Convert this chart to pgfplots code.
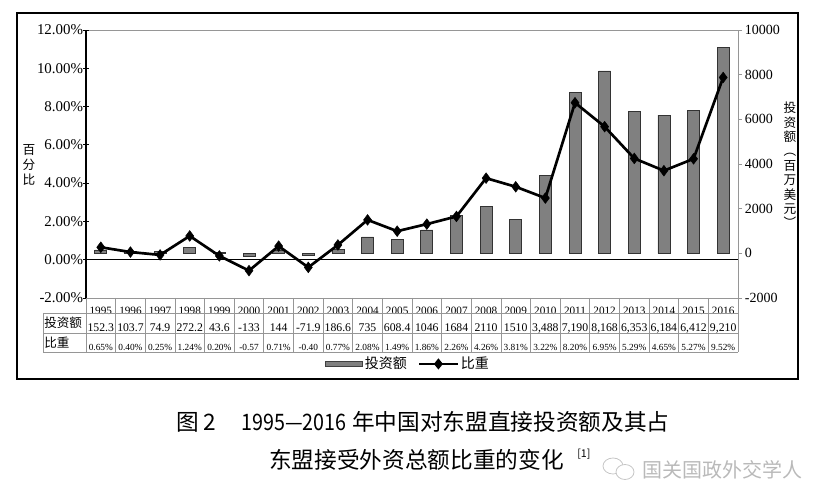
\documentclass[border=0pt]{standalone}
\usepackage{fontspec}
\setmainfont{Liberation Serif}
\newfontfamily\cjk{Noto Sans CJK SC}
\usepackage{pgfplots}
\usepackage{pgfplotstable}
\pgfplotsset{compat=1.18}
\definecolor{bargray}{RGB}{128,128,128}
\definecolor{gridgray}{RGB}{150,150,150}

\pgfplotstableread{
x amount pct
1 152.3 0.65
2 103.7 0.40
3 74.9 0.25
4 272.2 1.24
5 43.6 0.20
6 -133 -0.57
7 144 0.71
8 -71.9 -0.40
9 186.6 0.77
10 735 2.08
11 608.4 1.49
12 1046 1.86
13 1684 2.26
14 2110 4.26
15 1510 3.81
16 3488 3.22
17 7190 8.20
18 8168 6.95
19 6353 5.29
20 6184 4.65
21 6412 5.27
22 9210 9.52
}\data

\newcommand\tbl[3]{%
 \makebox[0pt][c]{\raisebox{-8.6pt}[0pt][0pt]{\fontsize{8.4}{9}\selectfont #1}}%
 \makebox[0pt][c]{\raisebox{-21.2pt}[0pt][0pt]{\fontsize{8.8}{9}\selectfont #2}}%
 \makebox[0pt][c]{\raisebox{-35.6pt}[0pt][0pt]{\fontsize{7}{8}\selectfont #3}}}

\begin{document}
\begin{tikzpicture}[x=0.75pt,y=0.75pt]
\useasboundingbox (0,0) rectangle (828,502);
% outer frame
\draw[line width=0.9pt] (17,123) rectangle (798,489);

% bars on the right axis
\begin{axis}[
  at={(64.5pt,153pt)}, anchor=south west, scale only axis,
  width=489pt, height=201pt,
  xmin=0.5, xmax=22.5, ymin=-2000, ymax=10000,
  scaled y ticks=false,
  axis line style={gridgray, line width=0.6pt},
  xtick={1,...,22},
  xticklabels={
   {\tbl{1995}{152.3}{0.65\%}},{\tbl{1996}{103.7}{0.40\%}},{\tbl{1997}{74.9}{0.25\%}},
   {\tbl{1998}{272.2}{1.24\%}},{\tbl{1999}{43.6}{0.20\%}},{\tbl{2000}{-133}{-0.57}},
   {\tbl{2001}{144}{0.71\%}},{\tbl{2002}{-71.9}{-0.40}},{\tbl{2003}{186.6}{0.77\%}},
   {\tbl{2004}{735}{2.08\%}},{\tbl{2005}{608.4}{1.49\%}},{\tbl{2006}{1046}{1.86\%}},
   {\tbl{2007}{1684}{2.26\%}},{\tbl{2008}{2110}{4.26\%}},{\tbl{2009}{1510}{3.81\%}},
   {\tbl{2010}{3,488}{3.22\%}},{\tbl{2011}{7,190}{8.20\%}},{\tbl{2012}{8,168}{6.95\%}},
   {\tbl{2013}{6,353}{5.29\%}},{\tbl{2014}{6,184}{4.65\%}},{\tbl{2015}{6,412}{5.27\%}},
   {\tbl{2016}{9,210}{9.52\%}}},
  xtick style={draw=none},
  xticklabel style={anchor=north, inner sep=0pt},
  ytick={-2000,0,2000,4000,6000,8000,10000},
  yticklabels={-2000,0,2000,4000,6000,8000,10000},
  ytick pos=right, yticklabel pos=right,
  tick align=outside, major tick length=3pt,
  ytick style={gridgray, line width=0.6pt},
  yticklabel style={anchor=west, inner sep=0pt, xshift=2pt, font=\fontsize{10.5}{12}\selectfont},
  ybar, bar width=9pt,
]
\addplot[fill=bargray, draw=black!80, line width=0.5pt] table[x=x, y=amount] {\data};
\end{axis}

% line on the left axis
\begin{axis}[
  at={(64.5pt,153pt)}, anchor=south west, scale only axis,
  width=489pt, height=201pt,
  xmin=0.5, xmax=22.5, ymin=-2, ymax=12,
  axis x line=none, axis y line*=left,
  axis line style={-, black, line width=0.8pt},
  ytick={-2,0,2,4,6,8,10,12},
  yticklabels={-2.00\%,0.00\%,2.00\%,4.00\%,6.00\%,8.00\%,10.00\%,12.00\%},
  tick align=center, major tick length=4pt,
  ytick style={black, line width=0.6pt},
  yticklabel style={anchor=east, inner sep=0pt, font=\fontsize{11.2}{13}\selectfont},
  clip=false,
  legend style={at={(axis description cs:0.3666,-0.246)}, anchor=west,
    draw=none, fill=none, inner sep=0pt, outer sep=0pt,
    nodes={inner sep=1.5pt},
    font=\cjk\fontsize{10.5}{12}\selectfont},
  legend columns=2,
  legend cell align=left,
  /tikz/every even column/.append style={column sep=7pt},
]
\draw[black, line width=0.9pt] (axis cs:0.5,0) -- (axis cs:22.5,0);
\addlegendimage{legend image code/.code={\draw[fill=bargray,draw=black!75,line width=0.6pt] (0pt,-1.9pt) rectangle (27.7pt,1.9pt);}}
\addlegendentry{投资额}
\addplot[black, line width=2pt, mark=diamond*, mark size=4pt,
  mark options={solid, line width=0.4pt},
  legend image code/.code={\draw[line width=1.5pt] (0pt,0pt) -- (29pt,0pt);
    \fill (14.5pt,2.6pt) -- (16.6pt,0pt) -- (14.5pt,-2.6pt) -- (12.4pt,0pt) -- cycle;}]
  table[x=x, y=pct] {\data};
\addlegendentry{比重}
\end{axis}

% table grid
\foreach \k in {0,...,22} {
  \draw[gridgray, line width=0.6pt] ({86+\k*652/22},204) -- ({86+\k*652/22},150);
}
\draw[gridgray, line width=0.6pt] (86,204) -- (738,204);
\draw[gridgray, line width=0.6pt] (43,189) -- (738,189);
\draw[gridgray, line width=0.6pt] (43,169) -- (738,169);
\draw[gridgray, line width=0.6pt] (43,150) -- (738,150);
\draw[gridgray, line width=0.6pt] (43,189) -- (43,150);
\node[anchor=west, inner sep=0pt, font=\cjk\fontsize{9.4}{10}\selectfont] at (44,179) {投资额};
\node[anchor=west, inner sep=0pt, font=\cjk\fontsize{9.4}{10}\selectfont] at (44,159) {比重};

% axis titles
\node[align=center, inner sep=0pt, font=\cjk\fontsize{9.5}{11}\selectfont] at (29,337) {百\\分\\比};
\node[align=center, inner sep=0pt, font=\cjk\fontsize{9.5}{10.8}\selectfont] at (790,337) {投\\资\\额\\︵\\百\\万\\美\\元\\︶};

% caption
\node[anchor=west, inner sep=0pt, font=\cjk\fontsize{17}{20}\selectfont] at (176,80) {图 2};
\node[anchor=west, inner sep=0pt, font=\cjk\fontsize{17}{20}\selectfont] at (241,80) {\scalebox{0.87}[1]{1995—2016}};
\node[anchor=west, inner sep=0pt, font=\cjk\fontsize{17}{20}\selectfont] at (352,80) {年中国对东盟直接投资额及其占};
\node[anchor=west, inner sep=0pt, font=\cjk\fontsize{17}{20}\selectfont] at (269,42) {东盟接受外资总额比重的变化};
\node[anchor=west, inner sep=0pt, font=\cjk\fontsize{8}{9}\selectfont] at (577,48) {[1]};

% watermark
\draw[gray!45, line width=0.6pt] (613,36) ellipse (10 and 8);
\draw[gray!45, line width=0.6pt, fill=white] (625,30) ellipse (9 and 7.5);
\node[anchor=west, inner sep=0pt, text=gray!55, font=\cjk\fontsize{15}{16}\selectfont] at (642,32) {国关国政外交学人};
\end{tikzpicture}
\end{document}
